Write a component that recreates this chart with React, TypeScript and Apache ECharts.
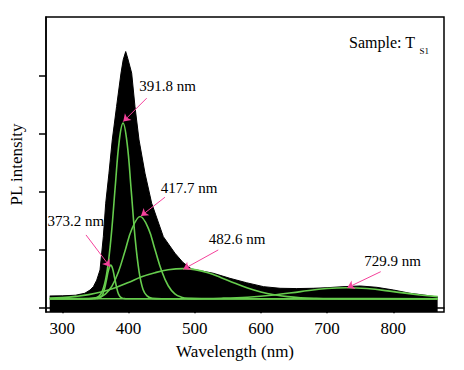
import { useEffect, useRef } from 'react';
import * as echarts from 'echarts';

// ---- axis ticks ----
const xTickValues = [300, 400, 500, 600, 700, 800];
const yTickValues = [0, 1, 2, 3, 4];

// ---- measured PL spectrum (black filled) ----
const specWavelength = [281, 300, 320, 334, 342, 347, 352, 357, 362, 365.6, 370.5, 375.5, 382, 388.7, 392, 395.8, 399, 404.8, 409.8, 415.9, 424.9, 435, 452.6, 470.2, 482, 495, 528, 553, 578, 604, 629, 654, 679, 700, 724, 750, 775, 800, 825, 845, 863, 867];
const specIntensity = [0.197, 0.2, 0.21, 0.244, 0.3, 0.358, 0.47, 0.647, 1.223, 1.801, 2.32, 2.896, 3.472, 4.05, 4.28, 4.423, 4.3, 4.05, 3.472, 2.896, 2.32, 1.801, 1.223, 0.936, 0.78, 0.665, 0.59, 0.503, 0.427, 0.358, 0.33, 0.325, 0.33, 0.34, 0.358, 0.37, 0.347, 0.301, 0.244, 0.215, 0.185, 0.18];

// ---- fitted components (green) ----
const fit373Wavelength = [281, 330, 350, 355, 360, 364, 367, 370, 373.2, 376, 379, 382, 385, 389, 395, 440, 867];
const fit373Intensity = [0.15, 0.15, 0.152, 0.158, 0.2, 0.33, 0.49, 0.65, 0.73, 0.67, 0.51, 0.35, 0.23, 0.17, 0.152, 0.15, 0.15];

const fit392Wavelength = [281, 340, 355, 362, 368, 374, 380, 386, 391.8, 398, 404, 410, 416, 422, 428, 436, 450, 867];
const fit392Intensity = [0.15, 0.15, 0.19, 0.33, 0.65, 1.25, 2.09, 2.875, 3.185, 2.83, 2.04, 1.2, 0.62, 0.31, 0.2, 0.156, 0.15, 0.15];

const fit418Wavelength = [281, 340, 355, 365, 375, 385, 395, 405, 417.7, 430, 440, 450, 460, 470, 480, 490, 510, 867];
const fit418Intensity = [0.15, 0.152, 0.175, 0.23, 0.366, 0.62, 0.984, 1.35, 1.57, 1.365, 1.0, 0.633, 0.374, 0.234, 0.176, 0.156, 0.15, 0.15];

const fit483Wavelength = [281, 300, 320, 340, 360, 380, 400, 420, 440, 460, 482.6, 500, 520, 540, 560, 580, 600, 620, 640, 660, 680, 720, 867];
const fit483Intensity = [0.16, 0.17, 0.19, 0.22, 0.27, 0.34, 0.43, 0.53, 0.6, 0.65, 0.67, 0.653, 0.597, 0.514, 0.422, 0.336, 0.267, 0.218, 0.186, 0.167, 0.158, 0.151, 0.15];

const fit730Wavelength = [281, 480, 500, 540, 580, 620, 660, 700, 729.9, 760, 800, 840, 867];
const fit730Intensity = [0.15, 0.15, 0.152, 0.158, 0.176, 0.215, 0.273, 0.326, 0.34, 0.325, 0.273, 0.215, 0.186];

// ---- peak annotations (data coordinates) ----
const peakLabels = ['373.2 nm', '391.8 nm', '417.7 nm', '482.6 nm', '729.9 nm'];
const labelAnchors = [[320.4, 1.494], [459.2, 3.825], [491.7, 2.06], [563.9, 1.178], [799.1, 0.808]];
const arrowStarts = [[335.8, 1.252], [427.5, 3.617], [455.1, 1.904], [535.6, 0.993], [781, 0.617]];
const arrowEnds = [[372, 0.704], [392.1, 3.212], [418.9, 1.581], [482.8, 0.659], [730.5, 0.34]];

const FONT = 'Liberation Serif';
const GREEN = '#66cc4d';
const PINK = '#f5429b';

const pairs = (xs: number[], ys: number[]) => xs.map((x, i) => [x, ys[i]]);

const fits = [
  [fit373Wavelength, fit373Intensity],
  [fit392Wavelength, fit392Intensity],
  [fit418Wavelength, fit418Intensity],
  [fit483Wavelength, fit483Intensity],
  [fit730Wavelength, fit730Intensity],
];

export default function App() {
  const ref = useRef<HTMLDivElement>(null);
  useEffect(() => {
    document.body.style.margin = '0';
    const chart = echarts.init(ref.current!, null, { renderer: 'svg' });
    const option: any = {
      animation: false,
      backgroundColor: '#fff',
      textStyle: { fontFamily: FONT },
      grid: { left: 46, right: 20, top: 17, bottom: 58, show: true, borderColor: '#000', borderWidth: 1.5, backgroundColor: 'transparent' },
      xAxis: {
        type: 'value', min: 275.4, max: 876.6,
        axisLine: { show: true, lineStyle: { color: '#000', width: 1.5 } },
        axisTick: { show: true, customValues: xTickValues, length: 6, inside: false, lineStyle: { color: '#000', width: 1.5 } },
        axisLabel: { customValues: xTickValues, fontFamily: FONT, fontSize: 17, color: '#000', margin: 8 },
        splitLine: { show: false },
        name: 'Wavelength (nm)', nameLocation: 'middle', nameGap: 31,
        nameTextStyle: { fontFamily: FONT, fontSize: 17, color: '#000', padding: [0, 20, 0, 0] },
      },
      yAxis: {
        type: 'value', min: -0.08, max: 5.02,
        axisLine: { show: true, lineStyle: { color: '#000', width: 1.5 } },
        axisTick: { show: true, customValues: yTickValues, length: 7, inside: false, lineStyle: { color: '#000', width: 1.5 } },
        axisLabel: { show: false },
        splitLine: { show: false },
        name: 'PL intensity', nameLocation: 'middle', nameGap: 21, nameRotate: 90,
        nameTextStyle: { fontFamily: FONT, fontSize: 17, color: '#000' },
      },
      graphic: [
        { type: 'text', left: 349, top: 34, style: { text: 'Sample: T', fontFamily: FONT, fontSize: 16, fill: '#000' } },
        { type: 'text', left: 419.5, top: 46, style: { text: 'S1', fontFamily: FONT, fontSize: 9, fill: '#000' } },
      ],
      series: [
        {
          type: 'line', data: pairs(specWavelength, specIntensity), symbol: 'none', smooth: false,
          lineStyle: { color: '#000', width: 1 }, areaStyle: { color: '#000', opacity: 1, origin: 'start' }, z: 1,
        },
        ...fits.map(([xs, ys]) => ({
          type: 'line', data: pairs(xs, ys), symbol: 'none', smooth: 0.4,
          lineStyle: { color: GREEN, width: 1.6 }, z: 2,
        })),
        {
          type: 'line', data: [], z: 5, silent: true,
          markLine: {
            silent: true, symbol: ['none', 'arrow'], symbolSize: 7, animation: false,
            label: { show: false },
            lineStyle: { color: PINK, width: 1, type: 'solid' },
            data: arrowStarts.map((s, i) => [{ coord: s }, { coord: arrowEnds[i] }]),
          },
          markPoint: {
            silent: true, symbol: 'circle', symbolSize: 1, itemStyle: { color: 'rgba(0,0,0,0)' },
            label: { show: true, position: 'inside', formatter: '{b}', fontFamily: FONT, fontSize: 15, color: '#000' },
            data: labelAnchors.map((c, i) => ({ name: peakLabels[i], coord: c })),
          },
        },
      ],
    };
    chart.setOption(option);
    return () => chart.dispose();
  }, []);
  return <div ref={ref} style={{ width: 464, height: 370 }} />;
}
